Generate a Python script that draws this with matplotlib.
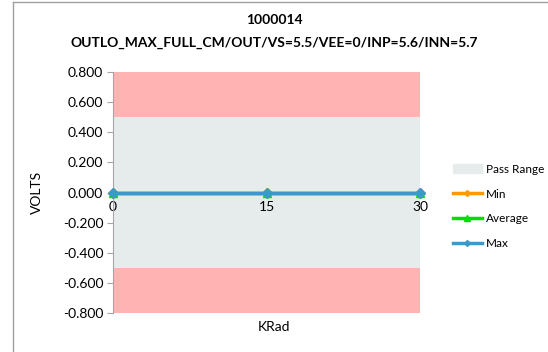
import matplotlib.pyplot as plt
from matplotlib.lines import Line2D
from matplotlib.patches import Patch

plt.rcParams['font.family'] = ['Lato', 'DejaVu Sans']

# data
krad = [0, 15, 30]
vmin = [0.0, 0.0, 0.0]
vavg = [0.0, 0.0, 0.0]
vmax = [0.0, 0.0, 0.0]
pass_lo, pass_hi = -0.5, 0.5
ymin, ymax = -0.8, 0.8
yticks = [0.8, 0.6, 0.4, 0.2, 0.0, -0.2, -0.4, -0.6, -0.8]
title1 = '1000014'
title2 = 'OUTLO_MAX_FULL_CM/OUT/VS=5.5/VEE=0/INP=5.6/INN=5.7'

W, H = 548, 352
fig = plt.figure(figsize=(W / 100, H / 100), dpi=100)
ax = fig.add_axes([113 / W, 1 - 313 / H, (420 - 113) / W, (313 - 72) / H])

# bands
ax.axhspan(pass_hi, ymax, color='#ffb3b3', lw=0, zorder=0)
ax.axhspan(ymin, pass_lo, color='#ffb3b3', lw=0, zorder=0)
ax.axhspan(pass_lo, pass_hi, color='#e6ebeb', lw=0, zorder=0)

ax.plot(krad, vmin, color='#ff9900', marker='D', ms=5, lw=2.5, zorder=3, clip_on=False)
ax.plot(krad, vavg, color='#00e000', marker='^', ms=6, lw=2.5, zorder=4, clip_on=False)
ax.plot(krad, vmax, color='#3c9ac9', marker='D', ms=5, lw=2.5, zorder=5, clip_on=False)

ax.set_xlim(0, 30)
ax.set_ylim(ymin, ymax)
ax.set_yticks(yticks)
ax.set_yticklabels(['%.3f' % v for v in yticks], fontsize=10)
ax.set_xticks(krad)
ax.set_xticklabels([str(k) for k in krad], fontsize=8)

for s in ['top', 'right']:
    ax.spines[s].set_visible(False)
ax.spines['bottom'].set_position(('data', 0))
ax.spines['bottom'].set_color('#a6a6a6')
ax.spines['left'].set_color('#a6a6a6')
ax.tick_params(axis='y', length=4, color='#a6a6a6', pad=3)
ax.tick_params(axis='x', length=0, pad=6)

ax.set_ylabel('VOLTS', fontsize=10, labelpad=14)
ax.text(0.5, 1 - 327 / H, 'KRad', transform=fig.transFigure, ha='center', va='center', fontsize=10)

fig.text(0.5, 1 - 20 / H, title1, ha='center', va='center', fontsize=10, fontweight='bold')
fig.text(0.5, 1 - 43 / H, title2, ha='center', va='center', fontsize=10, fontweight='bold')

handles = [
    Patch(color='#e6ebeb', label='Pass Range'),
    Line2D([], [], color='#ff9900', marker='D', ms=3, lw=2.5, label='Min'),
    Line2D([], [], color='#00e000', marker='^', ms=4, lw=2.5, label='Average'),
    Line2D([], [], color='#3c9ac9', marker='D', ms=3, lw=2.5, label='Max'),
]
fig.legend(handles=handles, loc='upper left', bbox_to_anchor=(442 / W, 1 - 153 / H),
           frameon=False, fontsize=8.5, handlelength=2.5, handleheight=0.7,
           labelspacing=1.18, handletextpad=0.3)

# chart border (left and top visible)
fig.add_artist(Line2D([13 / W, 13 / W], [0, 1 - 1.5 / H], color='#a0a0a0', lw=1))
fig.add_artist(Line2D([13 / W, 1], [1 - 1.5 / H, 1 - 1.5 / H], color='#a0a0a0', lw=1))

fig.savefig('out.png', dpi=100)
